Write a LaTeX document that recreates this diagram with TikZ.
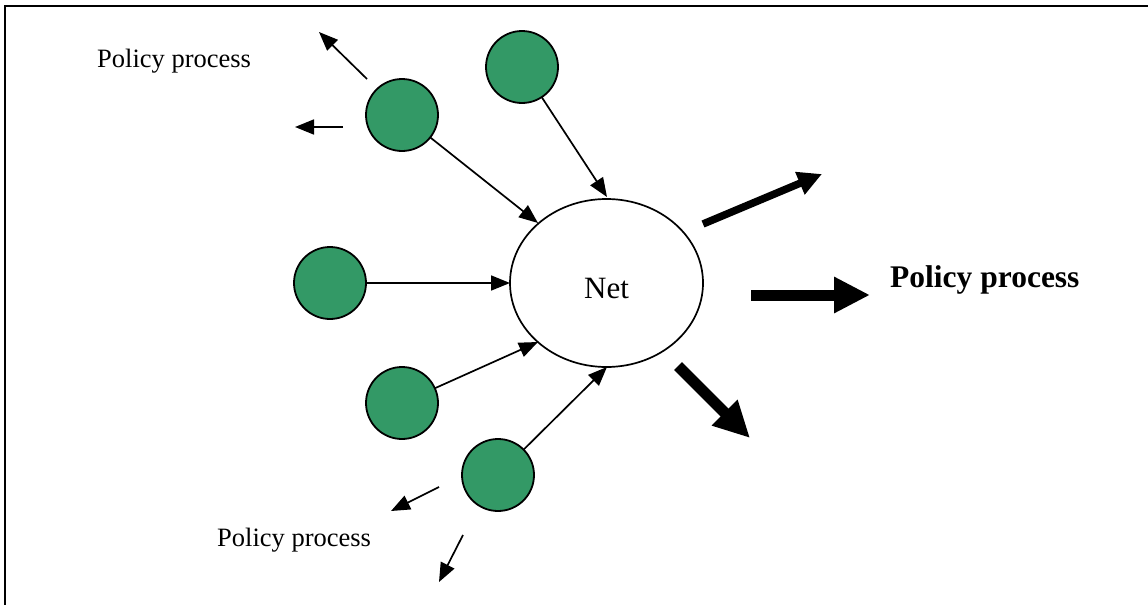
\documentclass[tikz,border=0pt]{standalone}
\usepackage{fontspec}
\setmainfont{Liberation Serif}
\usetikzlibrary{arrows.meta,shapes.geometric}
\definecolor{nodegreen}{RGB}{51,153,102}
\begin{document}
\begin{tikzpicture}[x=1pt,y=-1pt,
  actor/.style={circle,draw=black,line width=1.8pt,fill=nodegreen,minimum size=72pt,inner sep=0pt,outer sep=0pt},
  netshape/.style={ellipse,draw=black,line width=1.7pt,minimum width=193pt,minimum height=168pt,inner sep=0pt,outer sep=0pt},
  thin/.style={line width=1.7pt,-{Triangle[length=19pt,width=15pt]}},
  thickA/.style={line width=7.5pt,-{Triangle[length=24pt,width=23pt]}},
  thickB/.style={line width=11pt,-{Triangle[length=36pt,width=34pt]}},
  lbl/.style={font=\fontsize{26.5}{30}\selectfont,anchor=base west,inner sep=0pt},
  frame/.style={line width=2pt}]
\useasboundingbox (0,0) rectangle (1148,605);
% frame (only top and left edges visible)
\coordinate (fTR) at (1148,6);
\coordinate (fTL) at (5,6);
\coordinate (fBL) at (5,605);
\draw[frame] (fTR) -- (fTL) -- (fBL);

% central ellipse
\node[netshape] (net) at (606.5,283) {};
\node[font=\fontsize{31}{34}\selectfont,anchor=base,inner sep=0pt] (nettext) at (606.5,298) {Net};

% actors
\node[actor] (a1) at (402,115) {};
\node[actor] (a2) at (522,67) {};
\node[actor] (a3) at (330,283) {};
\node[actor] (a4) at (402,403) {};
\node[actor] (a5) at (498,475) {};

% arrow tips on the ellipse
\coordinate (t1) at (538,223);
\coordinate (t2) at (607,197);
\coordinate (t3) at (510,283);
\coordinate (t4) at (538,342);
\coordinate (t5) at (607,367);
\draw[thin] (a1) -- (t1);
\draw[thin] (a2) -- (t2);
\draw[thin] (a3) -- (t3);
\draw[thin] (a4) -- (t4);
\draw[thin] (a5) -- (t5);

% small outgoing arrows
\coordinate (s1a) at (367,79);  \coordinate (s1b) at (319,32);
\coordinate (s2a) at (343,127); \coordinate (s2b) at (295,127);
\coordinate (s3a) at (439,487); \coordinate (s3b) at (391,511);
\coordinate (s4a) at (463,535); \coordinate (s4b) at (439,582);
\draw[thin] (s1a) -- (s1b);
\draw[thin] (s2a) -- (s2b);
\draw[thin] (s3a) -- (s3b);
\draw[thin] (s4a) -- (s4b);

% big outgoing arrows
\coordinate (b1a) at (703,224); \coordinate (b1b) at (822,174);
\coordinate (b2a) at (751,295); \coordinate (b2b) at (870,295);
\coordinate (b3a) at (678,366); \coordinate (b3b) at (750,438);
\draw[thickA] (b1a) -- (b1b);
\draw[thickB] (b2a) -- (b2b);
\draw[thickB] (b3a) -- (b3b);

% labels
\node[lbl] (l1) at (97,67) {Policy process};
\node[lbl] (l2) at (217,546) {Policy process};
\node[font=\fontsize{31.5}{34}\selectfont\bfseries,anchor=base west,inner sep=0pt] (l3) at (890,287) {Policy process};
\end{tikzpicture}
\end{document}
